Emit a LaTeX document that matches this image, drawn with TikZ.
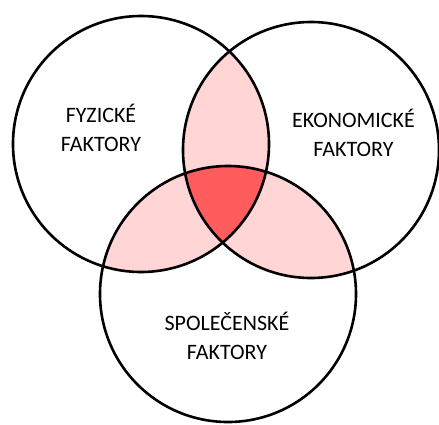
\documentclass[tikz,border=0pt]{standalone}
\usepackage{fontspec}
\setmainfont{Carlito}
\usepackage{tikz}
\usetikzlibrary{calc}

\definecolor{lightpink}{RGB}{255,213,213}
\definecolor{darkpink}{RGB}{255,93,93}

\begin{document}
\begin{tikzpicture}[x=1pt,y=-1pt,
  factor/.style={circle,draw=black,line width=2.6pt,minimum size=256pt,inner sep=0pt},
  label/.style={align=center,font=\fontsize{22}{29}\selectfont}]

\useasboundingbox (0,0) rectangle (439,424);

% Centres
\coordinate (fyzc) at (141,144);
\coordinate (ekoc) at (311,150);
\coordinate (spoc) at (228,294);

% Pairwise overlaps
\begin{scope}
\clip (fyzc) circle (128);
\fill[lightpink] (ekoc) circle (128);
\fill[lightpink] (spoc) circle (128);
\end{scope}
\begin{scope}
\clip (ekoc) circle (128);
\fill[lightpink] (spoc) circle (128);
\end{scope}

% Triple overlap
\begin{scope}
\clip (fyzc) circle (128);
\clip (ekoc) circle (128);
\fill[darkpink] (spoc) circle (128);
\end{scope}

% Circles
\node[factor] (fyz) at (fyzc) {};
\node[factor] (eko) at (ekoc) {};
\node[factor] (spo) at (spoc) {};

% Labels
\node[label] (fyzt) at (101,128) {FYZICKÉ\\FAKTORY};
\node[label] (ekot) at (353.5,133) {EKONOMICKÉ\\FAKTORY};
\node[label] (spot) at (227,336) {SPOLEČENSKÉ\\FAKTORY};

\end{tikzpicture}
\end{document}
